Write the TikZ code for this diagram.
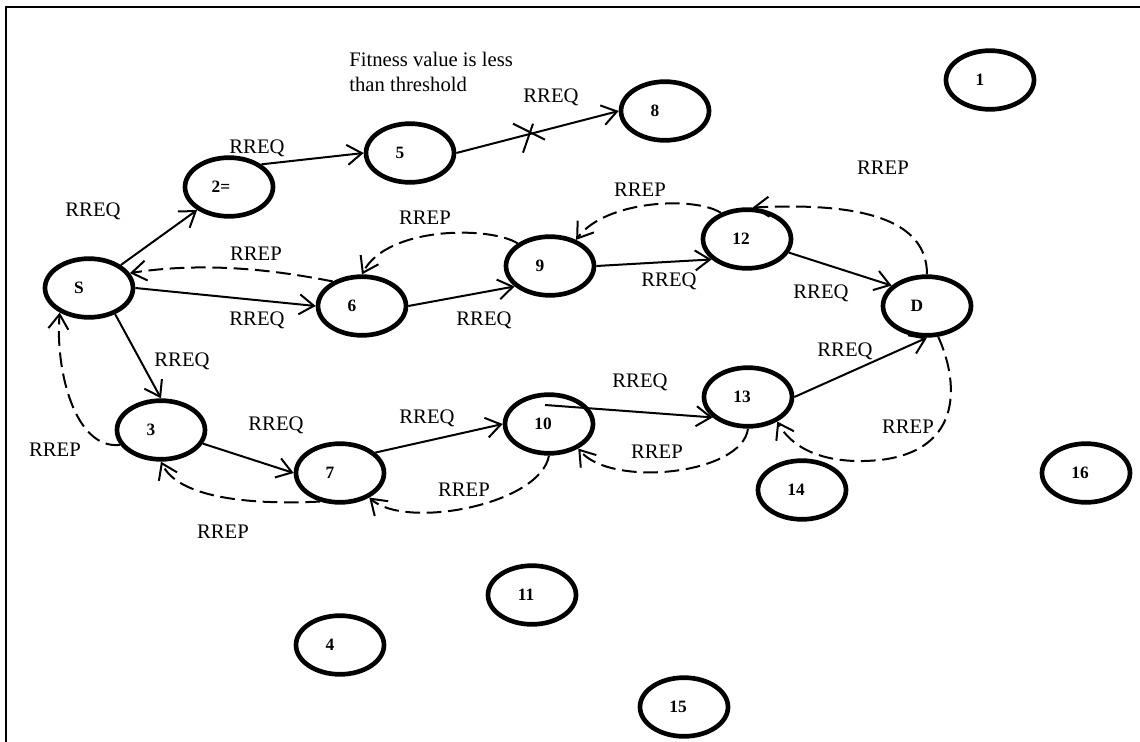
\documentclass[tikz,border=0pt]{standalone}
\usepackage{fontspec}
\setmainfont{Liberation Serif}
\usetikzlibrary{arrows.meta,shapes.geometric,calc}
\begin{document}
\begin{tikzpicture}[x=0.75pt,y=-0.75pt,
  nd/.style={ellipse,draw,line width=3.5pt,minimum width=66pt,minimum height=44pt,inner sep=0pt,
    font=\fontsize{13}{13}\selectfont\bfseries},
  lab/.style={font=\fontsize{15.5}{18.5}\selectfont,inner sep=0pt},
  req/.style={line width=1.5pt,-{Straight Barb[length=11pt,width=15pt]}},
  rep/.style={req,dash pattern=on 11pt off 5pt},
  frame/.style={line width=1.5pt}]
\useasboundingbox (0,0) rectangle (1140,742);
% frame
\coordinate (fa) at (6,742);
\coordinate (fb) at (6,7);
\coordinate (fc) at (1140,7);
\draw[frame] (fa) -- (fb) -- (fc);
% nodes
\node[nd] (S)   at (89,288)  {S\kern15pt};
\node[nd] (n2)  at (229,187) {2=\kern12pt};
\node[nd] (n5)  at (410,153) {5\kern15pt};
\node[nd] (n8)  at (665,111) {8\kern15pt};
\node[nd] (n1)  at (990,80)  {1\kern15pt};
\node[nd] (n6)  at (362,306) {6\kern15pt};
\node[nd] (n3)  at (161,430) {3\kern15pt};
\node[nd] (n7)  at (340,473) {7\kern15pt};
\node[nd] (n9)  at (550,266) {9\kern15pt};
\node[nd] (n12) at (747,239) {12\kern9pt};
\node[nd] (D)   at (927,306) {D\kern15pt};
\node[nd] (n13) at (748,397) {13\kern9pt};
\node[nd] (n10) at (549,424) {10\kern9pt};
\node[nd] (n14) at (802,490) {14\kern9pt};
\node[nd] (n16) at (1086,473) {16\kern9pt};
\node[nd] (n11) at (532,595) {11\kern9pt};
\node[nd] (n4)  at (340,645) {4\kern15pt};
\node[nd] (n15) at (684,707) {15\kern9pt};
% text labels
\node[lab,anchor=north west,align=left] (fit) at (349,52) {Fitness value is less\\than threshold};
\node[lab] (t1)  at (257,148) {RREQ};
\node[lab] (t2)  at (93,211)  {RREQ};
\node[lab] (t3)  at (551,97)  {RREQ};
\node[lab] (t4)  at (425,218) {RREP};
\node[lab] (t5)  at (640,190) {RREP};
\node[lab] (t6)  at (883,168) {RREP};
\node[lab] (t7)  at (256,254) {RREP};
\node[lab] (t8)  at (257,320) {RREQ};
\node[lab] (t9)  at (182,361) {RREQ};
\node[lab] (t10) at (55,450)  {RREP};
\node[lab] (t11) at (276,425) {RREQ};
\node[lab] (t12) at (223,532) {RREP};
\node[lab] (t13) at (427,418) {RREQ};
\node[lab] (t14) at (464,490) {RREP};
\node[lab] (t15) at (669,281) {RREQ};
\node[lab] (t16) at (821,293) {RREQ};
\node[lab] (t17) at (845,351) {RREQ};
\node[lab] (t18) at (640,382) {RREQ};
\node[lab] (t19) at (657,452) {RREP};
\node[lab] (t20) at (908,427) {RREP};
\node[lab] (t21) at (484,320) {RREQ};
% RREQ edges
\draw[req] (S) -- (n2);
\draw[req] (n2.35) -- (n5.west);
\draw[req] (n5.east) -- coordinate[pos=0.46] (cut) (n8.west);
\draw[line width=1.5pt] ($(cut)+(-18,-10)$) -- ($(cut)+(14,6)$);
\draw[line width=1.5pt] ($(cut)+(2,-10)$) -- ($(cut)+(-8,19)$);
\draw[req] (S.east) -- (n6.west);
\draw[req] (S.-45) -- (n3.north);
\draw[req] (n3.-18) -- (n7.west);
\draw[req] (n7.30) -- (n10.west);
\draw[req] (n6.east) -- (n9.210);
\draw[req] (n9.east) -- (n12.210);
\draw[req] (n12.-18) -- (D.150);
\coordinate (s10) at ($(n10.center)+(-4,-19)$);
\draw[req] (s10) -- (n13.210);
\draw[req] (n13.east) -- (D.south);
% RREP edges
\draw[rep] (n6.140) .. controls (280,271) and (208,261) .. (S.20);
\draw[rep] (n9.145) .. controls (490,226) and (387,226) .. (n6.north);
\draw[rep] (n12.135) .. controls (695,196) and (605,200) .. (n9.45);
\draw[rep] (D.north) .. controls (927,220) and (863,202) .. (n12.80);
\draw[rep] (D.-70) .. controls (958,380) and (965,450) .. (880,460) .. controls (820,466) and (790,445) .. (n13.-40);
\draw[rep] (n13.south) .. controls (742,475) and (610,488) .. (n10.-40);
\draw[rep] (n10.south) .. controls (540,505) and (405,530) .. (n7.-40);
\draw[rep] (n7.-125) .. controls (250,505) and (178,498) .. (n3.south);
\draw[rep] (n3.200) .. controls (75,450) and (55,370) .. (S.220);
\end{tikzpicture}
\end{document}
